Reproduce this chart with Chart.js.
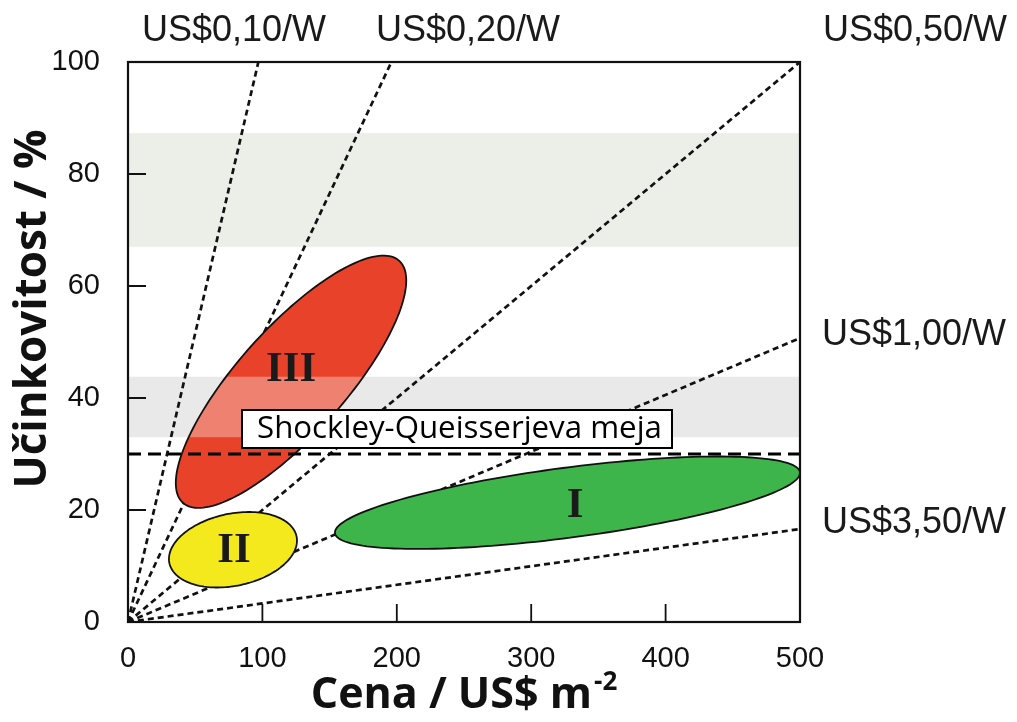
<!DOCTYPE html>
<html><head><meta charset="utf-8">
<script src="https://cdn.jsdelivr.net/npm/chart.js@4/dist/chart.umd.min.js"></script>
<style>html,body{margin:0;padding:0;background:#fff;}canvas{display:block;}</style>
</head><body>
<canvas id="c" width="1017" height="722"></canvas>
<script>
// ---- data ----
const xTicks = [0, 100, 200, 300, 400, 500];
const yTicks = [0, 20, 40, 60, 80, 100];
const xTitle = 'Cena / US$ m';
const xTitleSup = '-2';
const yTitle = 'Učinkovitost / %';
const priceLabels = ['US$0,10/W', 'US$0,20/W', 'US$0,50/W', 'US$1,00/W', 'US$3,50/W'];
const priceEndX = [97, 196, 500, 500, 500];
const priceEndY = [100, 100, 100, 50.7, 16.6];
const bandFrom = [67, 33];
const bandTo = [87.3, 43.8];
const sqLimit = 30;
const sqLabel = 'Shockley-Queisserjeva meja';
const regionNames = ['I', 'II', 'III'];
const regionCx = [327, 78.1, 121.3];
const regionCy = [21.3, 12.9, 42.9];
const regionUx = [173, 47.3, 80.5];
const regionUy = [5.45, 2.4, 21.6];
const regionVx = [3.4, 5.6, 29.5];
const regionVy = [-6.2, -6.3, -6.4];
const regionLabelX = [332.6, 78.9, 121.3];
const regionLabelY = [21.1, 13.0, 45.4];

// ---- styles ----
const regionColors = ['#3db54a', '#f4e91d', '#e8432a'];
const bandColors = ['#eceee8', '#eae9e9'];
const SANS = '"Liberation Sans", Arial, sans-serif';
const TITLE = '"Open Sans", "Noto Sans", sans-serif';
const priceLabelPos = [ // [x, baseline, align]
  [234, 41, 'center'], [468, 41, 'center'], [823, 41, 'left'], [822, 345, 'left'], [822, 533, 'left']
];

function ellipsePath(ctx, xs, ys, i) {
  ctx.beginPath();
  const N = 160;
  for (let k = 0; k <= N; k++) {
    const t = 2 * Math.PI * k / N;
    const dx = regionCx[i] + Math.cos(t) * regionUx[i] + Math.sin(t) * regionVx[i];
    const dy = regionCy[i] + Math.cos(t) * regionUy[i] + Math.sin(t) * regionVy[i];
    const px = xs.getPixelForValue(dx), py = ys.getPixelForValue(dy);
    if (k === 0) ctx.moveTo(px, py); else ctx.lineTo(px, py);
  }
  ctx.closePath();
}

function fitFont(ctx, text, weight, target, family) {
  ctx.font = `${weight} 40px ${family}`;
  return 40 * target / ctx.measureText(text).width;
}

const custom = {
  id: 'custom',
  beforeDatasetsDraw(chart) {
    const {ctx, chartArea: a, scales: {y}} = chart;
    ctx.save();
    for (let i = 0; i < bandFrom.length; i++) {
      const t = y.getPixelForValue(bandTo[i]), b = y.getPixelForValue(bandFrom[i]);
      ctx.fillStyle = bandColors[i];
      ctx.fillRect(a.left, t, a.right - a.left, b - t);
    }
    ctx.restore();
  },
  beforeDatasetDraw(chart, args) {
    if (args.index !== 0) return;
    const {ctx, chartArea: a, scales: {x, y}} = chart;
    ctx.save();
    for (let i = 0; i < regionNames.length; i++) {
      ellipsePath(ctx, x, y, i);
      ctx.fillStyle = regionColors[i];
      ctx.fill();
      ctx.save();
      ellipsePath(ctx, x, y, i);
      ctx.clip();
      const t = y.getPixelForValue(bandTo[1]), b = y.getPixelForValue(bandFrom[1]);
      ctx.fillStyle = 'rgba(255,255,255,0.33)';
      ctx.fillRect(a.left, t, a.right - a.left, b - t);
      ctx.restore();
      ellipsePath(ctx, x, y, i);
      ctx.lineWidth = 1.8;
      ctx.strokeStyle = '#111';
      ctx.stroke();
    }
    ctx.restore();
  },
  afterDraw(chart) {
    const {ctx, chartArea: a, scales: {x, y}} = chart;
    ctx.save();
    // frame
    ctx.strokeStyle = '#111';
    ctx.lineWidth = 2.2;
    ctx.strokeRect(a.left, a.top, a.right - a.left, a.bottom - a.top);
    // inward ticks
    ctx.lineWidth = 1.8;
    ctx.beginPath();
    yTicks.forEach(v => { const p = y.getPixelForValue(v); ctx.moveTo(a.left, p); ctx.lineTo(a.left + 18, p); });
    xTicks.forEach(v => { const p = x.getPixelForValue(v); ctx.moveTo(p, a.bottom); ctx.lineTo(p, a.bottom - 18); });
    ctx.stroke();
    // Shockley label box
    const ly = y.getPixelForValue(sqLimit);
    const bx = 242, bw = 430, bh = 38, by = ly - 6 - bh;
    ctx.fillStyle = '#fff';
    ctx.fillRect(bx, by, bw, bh);
    ctx.lineWidth = 2;
    ctx.strokeStyle = '#000';
    ctx.strokeRect(bx, by, bw, bh);
    const fs = fitFont(ctx, sqLabel, 'normal', 405, TITLE);
    ctx.font = `${fs}px ${TITLE}`;
    ctx.fillStyle = '#000';
    ctx.textAlign = 'left';
    ctx.textBaseline = 'alphabetic';
    ctx.fillText(sqLabel, 257, by + 28);
    // region numerals
    ctx.font = `bold 43px "Liberation Serif", "DejaVu Serif", serif`;
    ctx.fillStyle = '#1a1a1a';
    ctx.textAlign = 'center';
    ctx.textBaseline = 'middle';
    regionNames.forEach((n, i) => ctx.fillText(n, x.getPixelForValue(regionLabelX[i]), y.getPixelForValue(regionLabelY[i]) + 2));
    // price labels
    ctx.font = `36px ${SANS}`;
    ctx.fillStyle = '#1a1a1a';
    ctx.textBaseline = 'alphabetic';
    priceLabels.forEach((l, i) => {
      const [px, py, al] = priceLabelPos[i];
      ctx.textAlign = al;
      ctx.fillText(l, px, py);
    });
    // x title
    ctx.fillStyle = '#111';
    ctx.font = `bold 43px ${TITLE}`;
    const w1 = ctx.measureText(xTitle).width;
    ctx.font = `bold 26px ${TITLE}`;
    const w2 = ctx.measureText(xTitleSup).width;
    const sx = (a.left + a.right) / 2 - (w1 + w2 + 2) / 2;
    ctx.textAlign = 'left';
    ctx.font = `bold 43px ${TITLE}`;
    ctx.fillText(xTitle, sx, 708);
    ctx.font = `bold 26px ${TITLE}`;
    ctx.fillText(xTitleSup, sx + w1 + 2, 690);
    // y title
    ctx.translate(46, 309);
    ctx.rotate(-Math.PI / 2);
    ctx.font = `bold 44px ${TITLE}`;
    ctx.textAlign = 'center';
    ctx.fillText(yTitle, 0, 0);
    ctx.restore();
  }
};

const lineStyle = {borderColor: '#111', borderWidth: 2.7, borderDash: [6, 4], pointRadius: 0, showLine: true, fill: false};
const datasets = [
  {label: sqLabel, data: [{x: xTicks[0], y: sqLimit}, {x: xTicks[xTicks.length - 1], y: sqLimit}],
   borderColor: '#000', borderWidth: 3, borderDash: [13, 7], pointRadius: 0, showLine: true, fill: false},
  ...priceLabels.map((l, i) => Object.assign({label: l, data: [{x: 0, y: 0}, {x: priceEndX[i], y: priceEndY[i]}]}, lineStyle))
];

new Chart(document.getElementById('c'), {
  type: 'scatter',
  data: {datasets},
  options: {
    responsive: false,
    animation: false,
    layout: {padding: {top: 62, right: 217, left: 0, bottom: 0}},
    scales: {
      x: {
        type: 'linear', min: xTicks[0], max: xTicks[xTicks.length - 1],
        afterBuildTicks: s => { s.ticks = xTicks.map(v => ({value: v})); },
        afterFit: s => { s.height = 100; },
        grid: {display: true, drawOnChartArea: false, drawTicks: false},
        border: {display: false},
        ticks: {padding: 20, color: '#111', maxRotation: 0, font: {family: SANS, size: 29}}
      },
      y: {
        type: 'linear', min: yTicks[0], max: yTicks[yTicks.length - 1],
        afterBuildTicks: s => { s.ticks = yTicks.map(v => ({value: v})); },
        afterFit: s => { s.width = 128; },
        grid: {display: true, drawOnChartArea: false, drawTicks: false},
        border: {display: false},
        ticks: {padding: 28, color: '#111', font: {family: SANS, size: 29}}
      }
    },
    plugins: {legend: {display: false}, tooltip: {enabled: false}}
  },
  plugins: [custom]
});
</script>
</body></html>
